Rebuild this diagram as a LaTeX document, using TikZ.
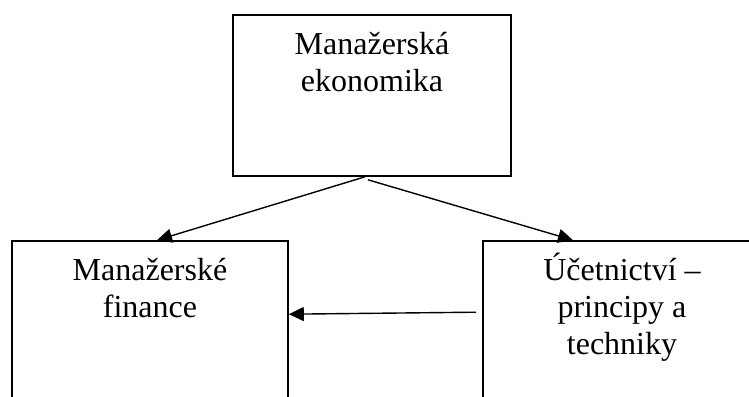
\documentclass[tikz,border=0pt]{standalone}
\usepackage{fontspec}
\setmainfont{Liberation Serif}
\usepackage{tikz}
\usetikzlibrary{calc,positioning,arrows.meta}
\newcommand{\linetop}{\rule{0pt}{15pt}}
\tikzset{
topicbox/.style={
  draw,
  line width=0.8pt,
  inner sep=0pt
  },
topictext/.style={
  align=center,
  inner sep=0pt,
  font=\fontsize{16}{18.5}\selectfont
  }
}

\begin{document}
\begin{tikzpicture}[x=0.5pt,y=0.5pt,>={Triangle[length=7.5pt,width=7pt]}]
    \clip (0,0) rectangle (749,396);
    \node[topicbox,minimum width=139pt,minimum height=80.5pt] (ekon) at (372,300.5) {};
    \node[topicbox,minimum width=138pt,minimum height=90pt] (fin) at (150,65) {};
    \node[topicbox,minimum width=139pt,minimum height=90pt] (ucet) at (622,65) {};
    \node[topictext,below=5pt of ekon.north] (ekontext) {\linetop Manažerská\\ekonomika};
    \node[topictext,below=5pt of fin.north] (fintext) {\linetop Manažerské\\finance};
    \node[topictext,below=5pt of ucet.north] (ucettext) {\linetop Účetnictví --\\principy a\\techniky};
    \draw[->,line width=0.7pt] ([xshift=-3.5pt]ekon.south) -- ([xshift=3.5pt]fin.north);
    \draw[->,line width=0.7pt] ([shift={(-2pt,-1.5pt)}]ekon.south) -- ([xshift=-24.5pt]ucet.north);
    \draw[->,line width=0.7pt] ([shift={(-3pt,-36pt)}]ucet.north west) -- ([yshift=-37pt]fin.north east);
\end{tikzpicture}
\end{document}
